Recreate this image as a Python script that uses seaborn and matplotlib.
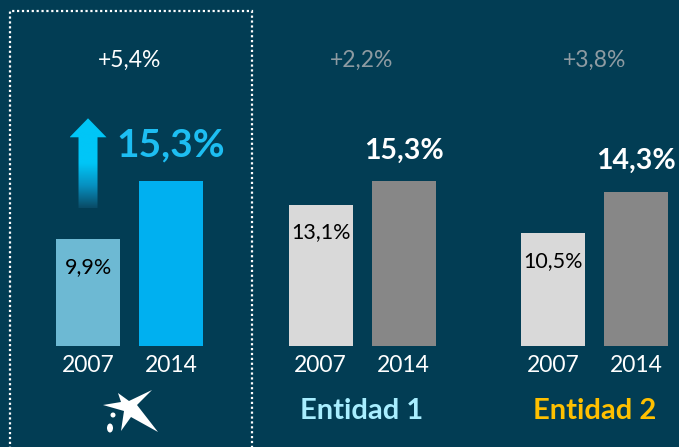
import numpy as np
import pandas as pd
import matplotlib
matplotlib.use('Agg')
import matplotlib.pyplot as plt
import matplotlib.transforms as mtransforms
from matplotlib.colors import LinearSegmentedColormap
from matplotlib.patches import Polygon, Rectangle, Ellipse, Circle
import seaborn as sns

# data
entities = ['CaixaBank', 'Entidad 1', 'Entidad 2']
years = ['2007', '2014']
share_2007 = [9.9, 13.1, 10.5]
share_2014 = [15.3, 15.3, 14.3]
labels_2007 = ['9,9%', '13,1%', '10,5%']
labels_2014 = ['15,3%', '15,3%', '14,3%']
growth_labels = ['+5,4%', '+2,2%', '+3,8%']

BG = '#023D54'
colors_2007 = ['#6DB9D3', '#D9D9D9', '#D9D9D9']
colors_2014 = ['#00B0F0', '#878787', '#878787']
growth_colors = ['white', '#8E9BA2', '#8E9BA2']
entity_colors = [None, '#A8EEFF', '#FFC000']


def main():
    plt.rcParams['font.family'] = ['Lato', 'DejaVu Sans']
    df = pd.DataFrame({'entity': entities * 2,
                       'year': [years[0]] * 3 + [years[1]] * 3,
                       'share': share_2007 + share_2014})

    fig = plt.figure(figsize=(6.79, 4.47), dpi=100, facecolor=BG)
    ax = fig.add_axes([0, 0, 1, 1])
    sns.barplot(data=df, x='entity', y='share', hue='year', order=entities, hue_order=years,
                width=0.714, gap=0.23, saturation=1, legend=False, ax=ax)
    ax.set_xlim(-0.557, 2.363)
    ax.set_ylim(-9.37, 32.1)
    ax.axis('off')

    bars_2007, bars_2014 = ax.containers[0], ax.containers[1]
    for i in range(len(entities)):
        b7, b14 = bars_2007[i], bars_2014[i]
        b7.set_facecolor(colors_2007[i])
        b14.set_facecolor(colors_2014[i])
        b7.set_edgecolor('none')
        b14.set_edgecolor('none')
        for b, yr in ((b7, years[0]), (b14, years[1])):
            ax.annotate(yr, (b.get_x() + b.get_width() / 2, 0), xytext=(0, -14), textcoords='offset points',
                        ha='center', va='center', color='white', fontsize=16.5)
        ax.annotate(labels_2007[i], (b7.get_x() + b7.get_width() / 2, b7.get_height()), xytext=(0, -20),
                    textcoords='offset points', ha='center', va='center', color='black', fontsize=15.5)
        if i == 0:
            ax.annotate(labels_2014[i], (b14.get_x() + b14.get_width() / 2, b14.get_height()), xytext=(0, 26),
                        textcoords='offset points', ha='center', va='center', color='#1DBEF2',
                        fontsize=28, fontweight='bold')
        else:
            ax.annotate(labels_2014[i], (b14.get_x() + b14.get_width() / 2, b14.get_height()), xytext=(0, 22),
                        textcoords='offset points', ha='center', va='center', color='white',
                        fontsize=20.5, fontweight='bold')
        trans = mtransforms.blended_transform_factory(ax.transData, ax.transAxes)
        ax.text(i, 1 - 60 / 447, growth_labels[i], transform=trans, ha='center', va='center',
                color=growth_colors[i], fontsize=16.5)
        if entity_colors[i] is not None:
            ax.annotate(entities[i], (i, 0), xytext=(0, -47), textcoords='offset points',
                        ha='center', va='center', color=entity_colors[i], fontsize=21, fontweight='bold')

    # gradient arrow above the 2007 bar
    sx = ax.transData.transform((1, 0))[0] - ax.transData.transform((0, 0))[0]
    sy = ax.transData.transform((0, 1))[1] - ax.transData.transform((0, 0))[1]
    b7 = bars_2007[0]
    cx = b7.get_x() + b7.get_width() / 2
    y_bot = b7.get_height() + 31 / sy
    y_tip = b7.get_height() + 121 / sy
    y_head = y_tip - 19 / sy
    hw, sw = 18.5 / sx, 9.5 / sx
    arrow = Polygon([(cx - sw, y_bot), (cx + sw, y_bot), (cx + sw, y_head), (cx + hw, y_head),
                     (cx, y_tip), (cx - hw, y_head), (cx - sw, y_head)],
                    closed=True, facecolor='none', edgecolor='none')
    ax.add_patch(arrow)
    grad = np.clip(np.linspace(0, 1, 200) / 0.5, 0, 1).reshape(-1, 1)
    cmap = LinearSegmentedColormap.from_list('fade', ['#0A4B66', '#0790C0', '#00C6F7'])
    img = ax.imshow(grad, extent=[cx - hw, cx + hw, y_bot, y_tip], origin='lower', aspect='auto',
                    cmap=cmap, vmin=0, vmax=1, zorder=3)
    img.set_clip_path(arrow)
    ax.set_xlim(-0.557, 2.363)
    ax.set_ylim(-9.37, 32.1)

    # dotted frame around the first entity
    frame = Rectangle((10 / 679, -0.05), 242 / 679, 1.05 - 11 / 447, transform=fig.transFigure,
                      fill=False, edgecolor='white', linewidth=1.6, linestyle=(0, (1, 1.2)))
    fig.add_artist(frame)

    # simplified logo
    flip = mtransforms.Affine2D().scale(1, -1).translate(0, 447)
    star = [(152, 390), (137, 405), (158, 432), (131, 417), (121, 431), (124, 411),
            (103, 405), (121, 402), (118, 393), (129, 401)]
    fig.add_artist(Polygon(star, closed=True, facecolor='white', edgecolor='none', transform=flip))
    fig.add_artist(Circle((113, 415), 2.5, facecolor='white', edgecolor='none', transform=flip))
    fig.add_artist(Ellipse((110, 428), 6, 9, facecolor='white', edgecolor='none', transform=flip))

    fig.savefig('out.png', dpi=100, facecolor=BG)


if __name__ == '__main__':
    main()
